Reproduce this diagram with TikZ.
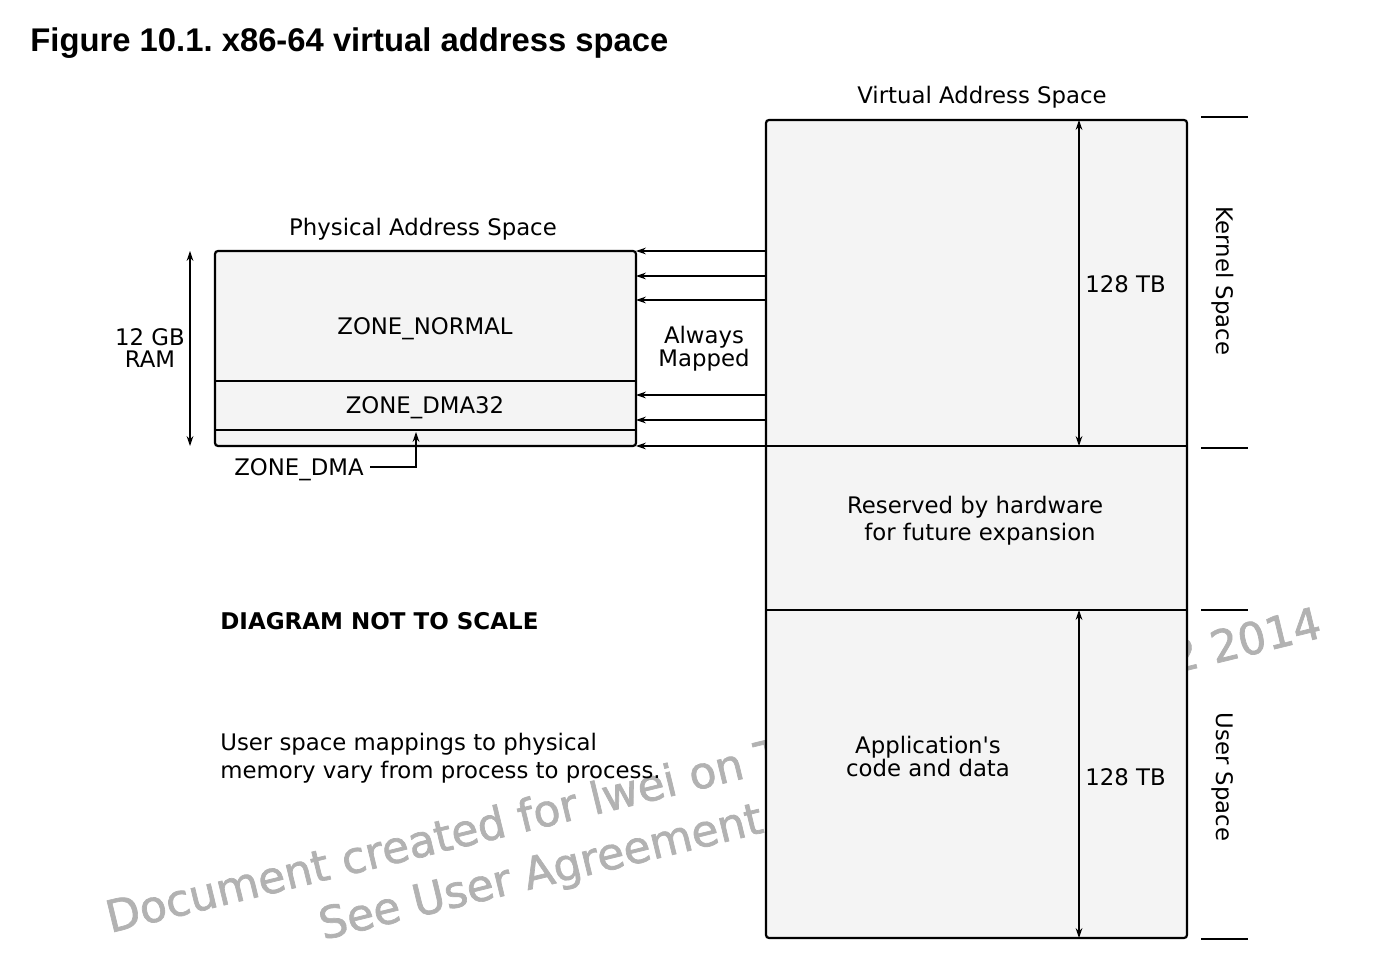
\documentclass[tikz,border=0pt]{standalone}
\usepackage{fontspec}
\setmainfont{DejaVu Sans}
\newfontfamily\titlefont{Liberation Sans}
\newfontfamily\markfont[FakeBold=1.6]{DejaVu Sans}
\usetikzlibrary{arrows.meta,positioning}

\definecolor{boxgray}{HTML}{F4F4F4}
\definecolor{markgray}{HTML}{B2B2B2}

\tikzset{
  zone/.style={draw=black, fill=boxgray, line width=1.1pt, rounded corners=1.5pt, inner sep=0pt, outer sep=0pt, anchor=north west},
  divider/.style={line width=0.75pt},
  tick/.style={line width=0.75pt},
  map/.style={-{Stealth[length=5pt,width=3.4pt]}, line width=0.6pt},
  span/.style={{Stealth[length=5pt,width=3.4pt]}-{Stealth[length=5pt,width=3.4pt]}, line width=0.6pt},
  lbl/.style={inner sep=0pt, align=center, font=\fontsize{11.4}{11.2}\selectfont},
  watermark/.style={inner sep=0pt, text=markgray, rotate=13.7, font=\markfont\fontsize{22}{26}\selectfont},
}

\begin{document}
\frenchspacing
\begin{tikzpicture}[x=0.5pt,y=-0.5pt]
  \useasboundingbox (0,0) rectangle (1393,972);

  \node[watermark, anchor=base west] (mark1) at (110,933) {Document created for lwei on T};
  \node[watermark, anchor=base east] (mark2) at (1324,637) {2 2014};
  \node[watermark, anchor=base west] (mark3) at (323,940) {See User Agreement};

  \node[anchor=base west, inner sep=0pt, font=\titlefont\bfseries\fontsize{16.4}{18}\selectfont] (title) at (30,52) {Figure 10.1. x86-64 virtual address space};

  \node[zone, minimum width=210.5pt, minimum height=409pt] (virt) at (766,120) {};
  \node[zone, minimum width=210.5pt, minimum height=97.5pt] (phys) at (215,251) {};

  \coordinate (kbase) at (virt.west |- 0,446);
  \coordinate (utop) at (virt.west |- 0,610);
  \draw[divider] (kbase) -- (kbase -| virt.east);
  \draw[divider] (utop) -- (utop -| virt.east);
  \draw[divider] (phys.west |- 0,381) -- (phys.east |- 0,381);
  \draw[divider] (phys.west |- 0,430) -- (phys.east |- 0,430);

  \foreach \y in {251,276,300,395,420,446}
    \draw[map] (virt.west |- 0,\y) -- (phys.east |- 0,\y);

  \draw[span] (virt.north -| 1079,0) -- (kbase -| 1079,0);
  \draw[span] (utop -| 1079,0) -- (virt.south -| 1079,0);
  \draw[span] (phys.north west -| 190,0) -- (phys.south west -| 190,0);

  \foreach \y in {117,448,610,939}
    \draw[tick] (1201,\y) -- (1248,\y);

  \node[lbl, anchor=base] (vtitle) at (982,104) {Virtual Address Space};
  \node[lbl, anchor=base] (ptitle) at (423,236) {Physical Address Space};
  \node[lbl, anchor=base] (normal) at (425,335) {ZONE\_NORMAL};
  \node[lbl, anchor=base] (dma32) at (425,414) {ZONE\_DMA32};
  \node[lbl, anchor=base] (dma) at (299,476) {ZONE\_DMA};
  \node[lbl, anchor=north] (always) at (704,326) {Always\\Mapped};
  \node[lbl, anchor=north] (ram) at (150,328) {12 GB\\RAM};
  \node[lbl, anchor=base west] (ksize) at (1085,293) {128 TB};
  \node[lbl, anchor=base west] (usize) at (1085,785) {128 TB};
  \node[lbl, rotate=-90] (kernel) at (1223,281) {Kernel Space};
  \node[lbl, rotate=-90] (user) at (1223,777) {User Space};
  \node[lbl, anchor=north, font=\fontsize{11.4}{13.5}\selectfont] (reserved) at (975,496) {Reserved by hardware\\\hspace*{5pt}for future expansion};
  \node[lbl, anchor=north] (app) at (928,736) {Application\textquotesingle s\\code and data};
  \node[lbl, anchor=base west, font=\bfseries\fontsize{11.5}{13}\selectfont] (noscale) at (220,630) {DIAGRAM NOT TO SCALE};
  \node[lbl, anchor=north west, align=left, font=\fontsize{11.4}{14}\selectfont] (note) at (220,733) {User space mappings to physical\\memory vary from process to process.};

  \coordinate (dmafoot) at (416,467);
  \coordinate (dmatip) at (416,432);
  \draw[map] (dma.east |- dmafoot) ++(6,0) -- (dmafoot) -- (dmatip);
\end{tikzpicture}
\end{document}
